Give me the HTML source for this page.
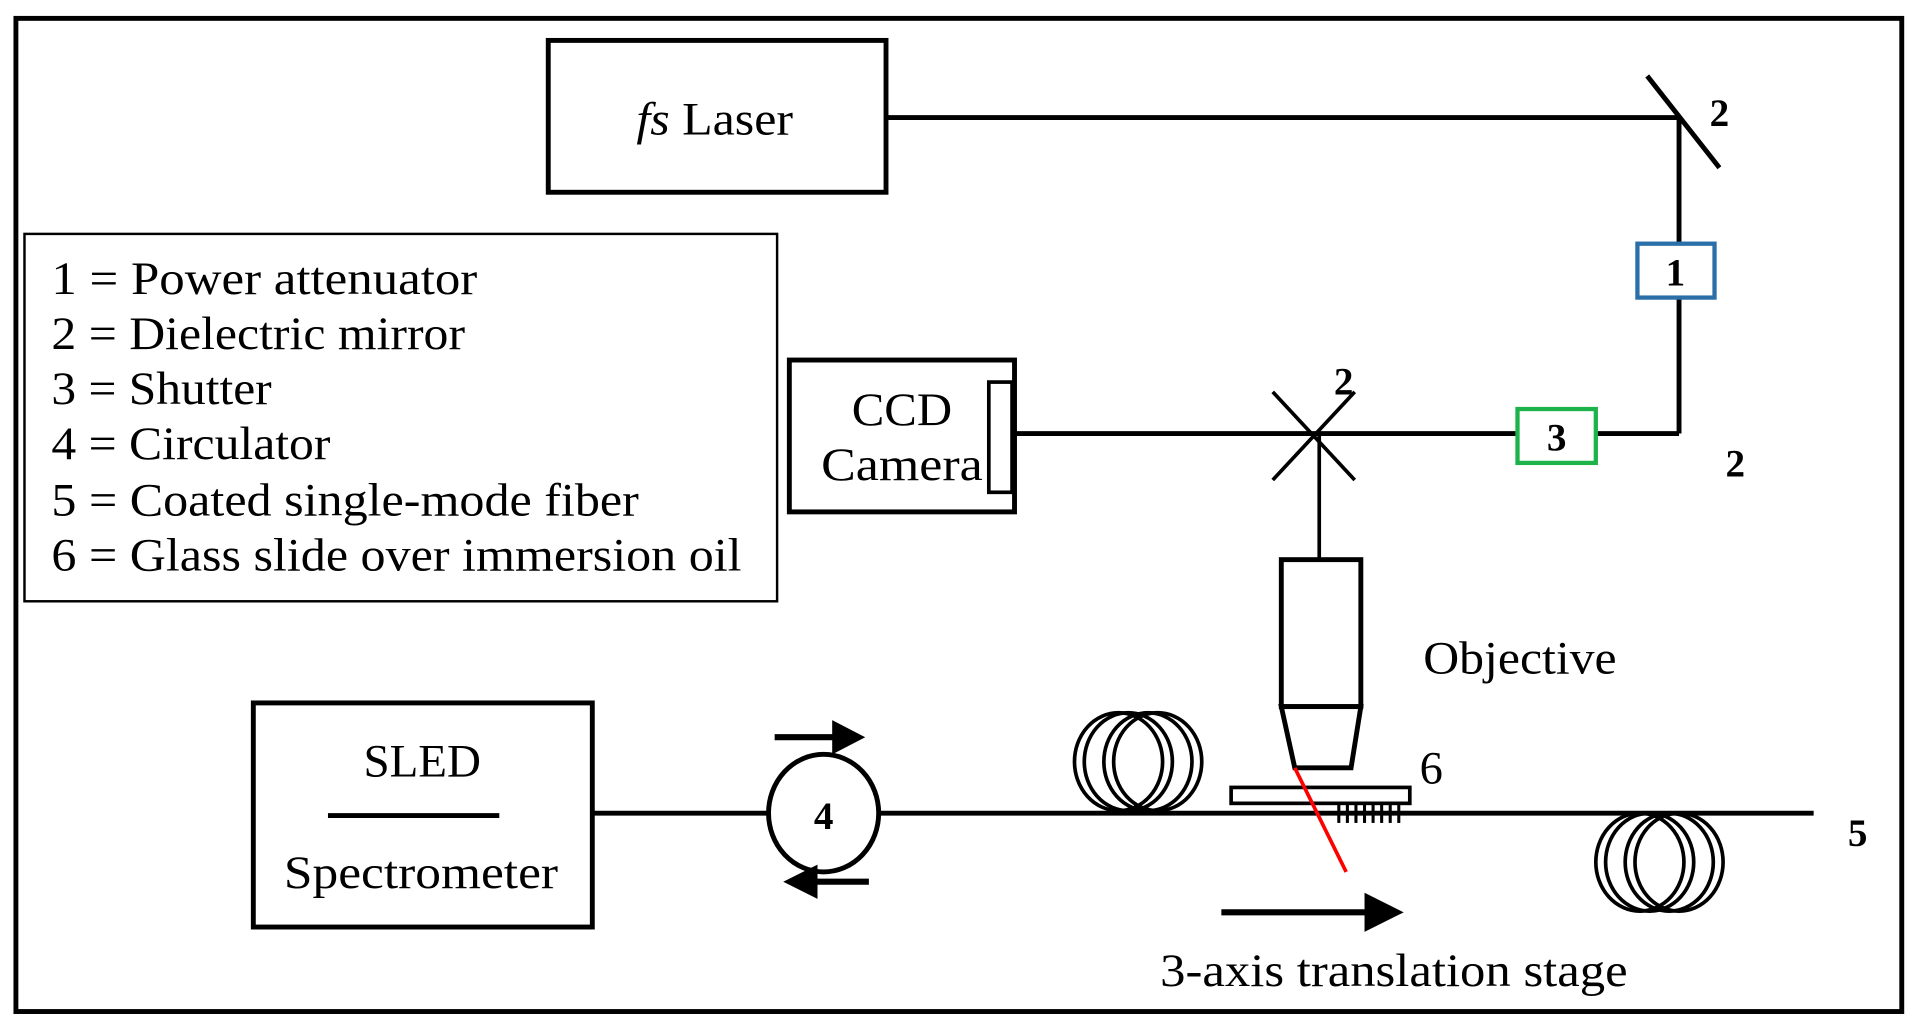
<!DOCTYPE html>
<html><head><style>html,body{margin:0;padding:0;background:#fff}svg{display:block}</style></head>
<body>
<svg width="1914" height="1025" viewBox="0 0 1564 837" preserveAspectRatio="none" xmlns="http://www.w3.org/2000/svg" font-family="Liberation Serif, serif">
<rect x="0" y="0" width="1564" height="837" fill="#fff"/>
<rect x="13" y="15" width="1541" height="811" fill="none" stroke="#000" stroke-width="4"/>
<g fill="none" stroke="#000" stroke-width="4">
<rect x="448" y="33" width="276" height="124"/>
<line x1="724" y1="96" x2="1372" y2="96"/>
<line x1="1346" y1="62" x2="1405" y2="137"/>
<line x1="1372" y1="96" x2="1372" y2="354"/>
<line x1="830" y1="354" x2="1372" y2="354"/>
<line x1="1040" y1="320" x2="1107" y2="392" stroke-width="3"/>
<line x1="1107" y1="320" x2="1040" y2="392" stroke-width="3"/>
<rect x="645" y="294" width="184" height="124"/>
<rect x="808" y="312" width="19" height="90" stroke-width="3"/>
<line x1="1078" y1="354" x2="1078" y2="457" stroke-width="3"/>
<rect x="1047" y="457" width="65" height="120"/>
<path d="M1047 577 L1112 577 L1104 627 L1058 627 Z"/>
<rect x="1006" y="643" width="146" height="13" stroke-width="3"/>
<line x1="484" y1="664" x2="1482" y2="664"/>
<ellipse cx="673" cy="664" rx="45" ry="48" fill="#fff"/>
<rect x="207" y="574" width="277" height="183"/>
<line x1="268" y1="666" x2="408" y2="666"/>
<line x1="633" y1="602" x2="682" y2="602" stroke-width="5"/>
<line x1="668" y1="720" x2="710" y2="720" stroke-width="5"/>
<line x1="998" y1="745" x2="1118" y2="745" stroke-width="5"/>
<g stroke-width="3">
<ellipse cx="914" cy="622" rx="36" ry="40"/>
<ellipse cx="922" cy="622" rx="36" ry="40"/>
<ellipse cx="938" cy="622" rx="36" ry="40"/>
<ellipse cx="946" cy="622" rx="36" ry="40"/>
<ellipse cx="1340" cy="704" rx="36" ry="40"/>
<ellipse cx="1348" cy="704" rx="36" ry="40"/>
<ellipse cx="1364" cy="704" rx="36" ry="40"/>
<ellipse cx="1372" cy="704" rx="36" ry="40"/>
</g>
</g>
<rect x="20" y="191" width="615" height="300" fill="none" stroke="#000" stroke-width="2"/>
<rect x="1338" y="199" width="63" height="44" fill="#fff" stroke="#2a6fa8" stroke-width="3.5"/>
<rect x="1240" y="334" width="64" height="44" fill="#fff" stroke="#1db34a" stroke-width="3.5"/>
<g fill="#000">
<path d="M680 588 L707 602 L680 616 Z"/>
<path d="M668 706 L640 720 L668 734 Z"/>
<path d="M1115 729 L1147 745 L1115 761 Z"/>
<g stroke="#000" stroke-width="2.5">
<line x1="1094" y1="656" x2="1094" y2="672"/><line x1="1101" y1="656" x2="1101" y2="672"/>
<line x1="1108" y1="656" x2="1108" y2="672"/><line x1="1115" y1="656" x2="1115" y2="672"/>
<line x1="1122" y1="656" x2="1122" y2="672"/><line x1="1129" y1="656" x2="1129" y2="672"/>
<line x1="1136" y1="656" x2="1136" y2="672"/><line x1="1143" y1="656" x2="1143" y2="672"/>
</g>
</g>
<line x1="1058" y1="627" x2="1100" y2="712" stroke="#f00" stroke-width="3"/>
<g font-size="38" fill="#000">
<text x="520" y="110" textLength="128" lengthAdjust="spacingAndGlyphs"><tspan font-style="italic">fs</tspan> Laser</text>
<text x="696" y="347" textLength="82" lengthAdjust="spacingAndGlyphs">CCD</text>
<text x="671" y="392" textLength="132" lengthAdjust="spacingAndGlyphs">Camera</text>
<text x="1163" y="550" textLength="158" lengthAdjust="spacingAndGlyphs">Objective</text>
<text x="297" y="634" textLength="96" lengthAdjust="spacingAndGlyphs">SLED</text>
<text x="232" y="725" textLength="224" lengthAdjust="spacingAndGlyphs">Spectrometer</text>
<text x="948" y="805" textLength="382" lengthAdjust="spacingAndGlyphs">3-axis translation stage</text>
<text x="1160" y="640">6</text>
<text x="42" y="240" textLength="348" lengthAdjust="spacingAndGlyphs">1 = Power attenuator</text>
<text x="42" y="285" textLength="338" lengthAdjust="spacingAndGlyphs">2 = Dielectric mirror</text>
<text x="42" y="330" textLength="180" lengthAdjust="spacingAndGlyphs">3 = Shutter</text>
<text x="42" y="375" textLength="228" lengthAdjust="spacingAndGlyphs">4 = Circulator</text>
<text x="42" y="421" textLength="480" lengthAdjust="spacingAndGlyphs">5 = Coated single-mode fiber</text>
<text x="42" y="466" textLength="564" lengthAdjust="spacingAndGlyphs">6 = Glass slide over immersion oil</text>
</g>
<g font-size="32" font-weight="bold" fill="#000">
<text x="1397" y="103">2</text>
<text x="1369" y="233" text-anchor="middle">1</text>
<text x="1272" y="368" text-anchor="middle">3</text>
<text x="1410" y="389">2</text>
<text x="1090" y="322">2</text>
<text x="673" y="677" text-anchor="middle">4</text>
<text x="1510" y="691">5</text>
</g>
</svg>
</body></html>
